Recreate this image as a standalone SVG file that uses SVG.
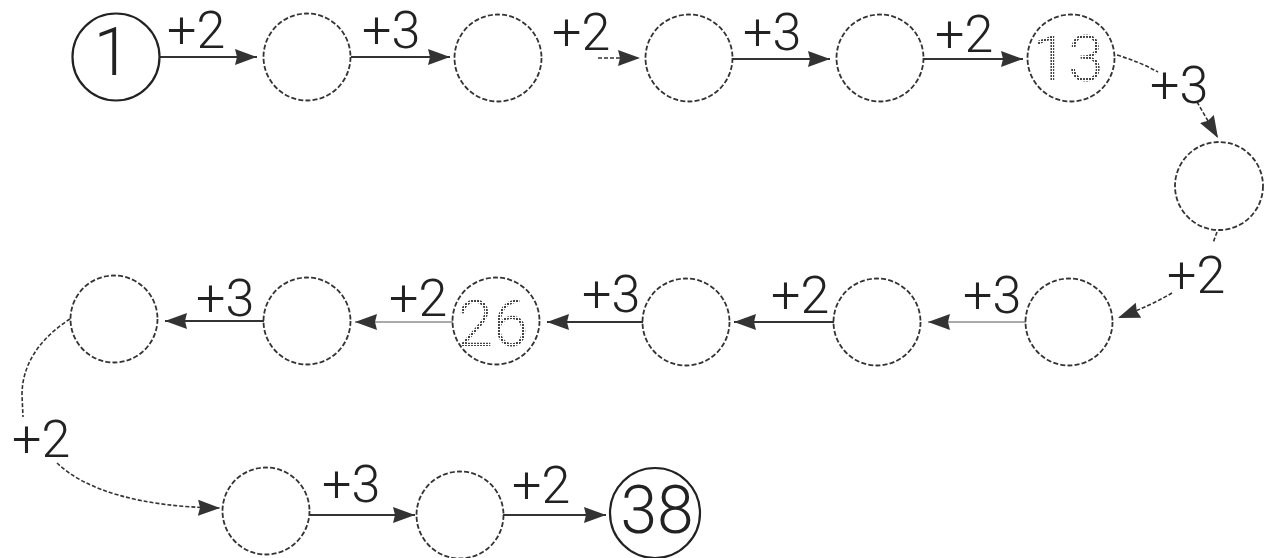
<svg xmlns="http://www.w3.org/2000/svg" width="1273" height="558" viewBox="0 0 1273 558">
<style>
.node{fill:none;stroke:#333;stroke-width:1.8;stroke-dasharray:5 2.2}
.endnode{fill:none;stroke:#222;stroke-width:2.2}
.lbl{font-family:Roboto,"Liberation Sans",sans-serif;font-weight:300;font-size:52px;fill:#222}
.num{font-family:Roboto,"Liberation Sans",sans-serif;font-weight:300;font-size:66px;fill:#222;text-anchor:middle}
.dotnum{font-family:Roboto,"Liberation Sans",sans-serif;font-weight:300;font-size:64px;fill:url(#dots);text-anchor:middle}
.ln{fill:none;stroke:#333;stroke-width:2;marker-end:url(#ah)}
.lg{fill:none;stroke:#aaa;stroke-width:2;marker-end:url(#ah)}
.dl{fill:none;stroke:#333;stroke-width:1.6;stroke-dasharray:4 2}
.dla{fill:none;stroke:#333;stroke-width:1.6;stroke-dasharray:4 2;marker-end:url(#ah)}
</style>
<defs>
<marker id="ah" markerUnits="userSpaceOnUse" markerWidth="24" markerHeight="18" refX="22" refY="8" orient="auto">
<path d="M0,0 L22,8 L0,16 L2,8 z" fill="#333"/>
</marker>
<pattern id="dots" width="3" height="3" patternUnits="userSpaceOnUse">
<rect x="0" y="0" width="2" height="2" fill="#444"/>
</pattern>
</defs>
<g id="connectors">
<line class="ln" x1="160" y1="57" x2="257" y2="57"/>
<line class="ln" x1="351" y1="57" x2="450" y2="57"/>
<line class="dla" x1="598" y1="58" x2="640" y2="58"/>
<line class="ln" x1="733" y1="59" x2="830" y2="59"/>
<line class="ln" x1="924" y1="59" x2="1023" y2="59"/>
<path class="dl" d="M1117,55 Q1140,62 1158,72"/>
<path class="dla" d="M1197,102 L1218,138"/>
<path class="dl" d="M1217,232 L1213,243"/>
<path class="dla" d="M1172,293 Q1150,306 1118,318"/>
<line class="lg" x1="1026" y1="322" x2="928" y2="322"/>
<line class="ln" x1="834" y1="322" x2="734" y2="322"/>
<line class="ln" x1="643" y1="322" x2="547" y2="322"/>
<line class="lg" x1="453" y1="322" x2="355" y2="322"/>
<line class="ln" x1="264" y1="321" x2="165" y2="321"/>
<path class="dl" d="M70,319 C45,335 22,360 22,395 L23,417"/>
<path class="dla" d="M57,463 C85,490 140,507 220,508"/>
<line class="ln" x1="310" y1="515" x2="415" y2="515"/>
<line class="ln" x1="503" y1="515" x2="606" y2="515"/>
</g>
<g id="labels">
<text class="lbl" x="167" y="48">+2</text>
<text class="lbl" x="362" y="48">+3</text>
<text class="lbl" x="552" y="50">+2</text>
<text class="lbl" x="743" y="50">+3</text>
<text class="lbl" x="935" y="52">+2</text>
<text class="lbl" x="1150" y="103">+3</text>
<text class="lbl" x="1167" y="293">+2</text>
<text class="lbl" x="963" y="313">+3</text>
<text class="lbl" x="771" y="313">+2</text>
<text class="lbl" x="582" y="312">+3</text>
<text class="lbl" x="389" y="316">+2</text>
<text class="lbl" x="196" y="316">+3</text>
<text class="lbl" x="12" y="457">+2</text>
<text class="lbl" x="322" y="502">+3</text>
<text class="lbl" x="512" y="503">+2</text>
</g>
<g id="n1"><circle class="endnode" cx="116" cy="57" r="43.5"/><text class="num" x="112" y="75">1</text></g>
<g id="n2"><circle class="node" cx="307" cy="57" r="43.5"/></g>
<g id="n3"><circle class="node" cx="498" cy="58" r="43.5"/></g>
<g id="n4"><circle class="node" cx="689" cy="58" r="43.5"/></g>
<g id="n5"><circle class="node" cx="880" cy="58" r="43.5"/></g>
<g id="n6"><circle class="node" cx="1071" cy="58" r="43.5"/><text class="dotnum" x="1068" y="81">13</text></g>
<g id="n7"><circle class="node" cx="1219" cy="186" r="44"/></g>
<g id="n8"><circle class="node" cx="1069" cy="322" r="43.5"/></g>
<g id="n9"><circle class="node" cx="877" cy="322" r="43.5"/></g>
<g id="n10"><circle class="node" cx="686" cy="322" r="43.5"/></g>
<g id="n11"><circle class="node" cx="496" cy="321" r="43.5"/><text class="dotnum" x="493" y="346">26</text></g>
<g id="n12"><circle class="node" cx="307" cy="321" r="43.5"/></g>
<g id="n13"><circle class="node" cx="114" cy="319" r="43.5"/></g>
<g id="n14"><circle class="node" cx="266" cy="511" r="43.5"/></g>
<g id="n15"><circle class="node" cx="460" cy="515" r="43.5"/></g>
<g id="n16"><circle class="endnode" cx="655" cy="513" r="45"/><text class="num" x="657" y="533">38</text></g>
</svg>
